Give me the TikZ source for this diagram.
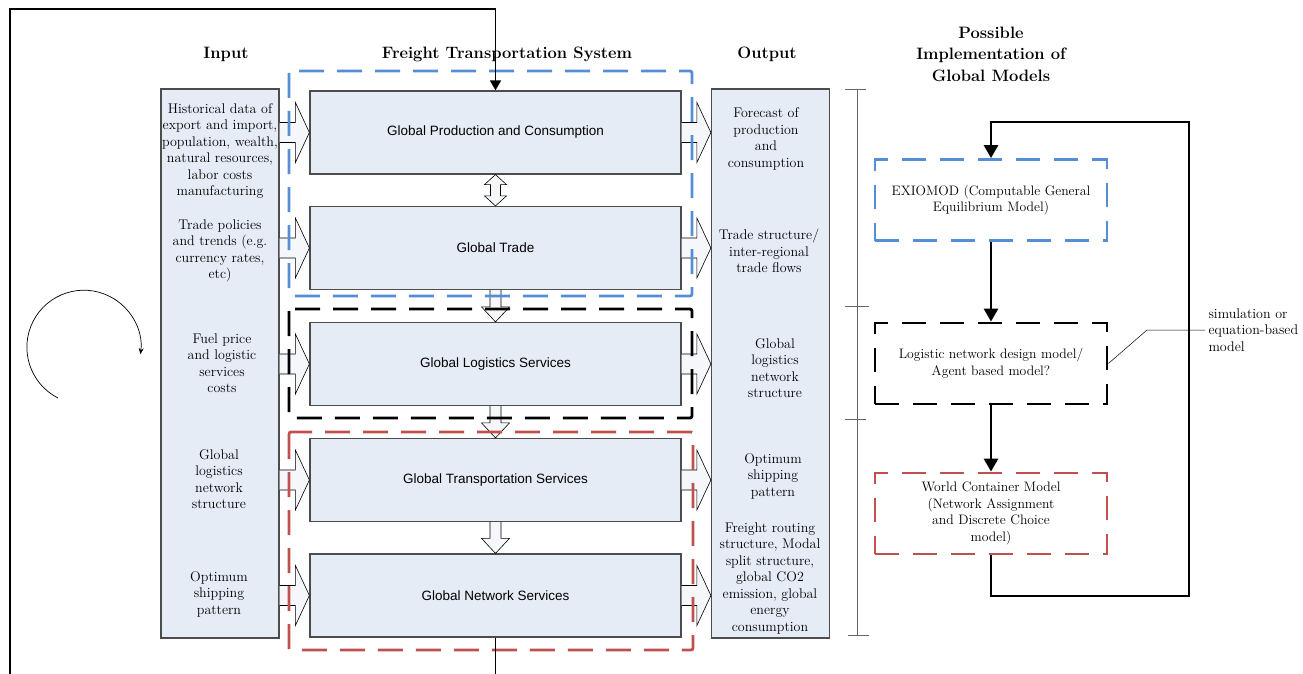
\documentclass[tikz,border=0pt]{standalone}
\usepackage{fontspec}
\newfontfamily\arialfont{Liberation Sans}
\usepackage{tikz}
\usetikzlibrary{arrows.meta,calc}

\definecolor{boxfill}{RGB}{230,236,246}
\definecolor{dashblue}{RGB}{85,142,213}
\definecolor{dashred}{RGB}{192,80,77}

\newcommand{\fatright}[2]{%
  \draw[fatarr] ($(#1)+(0,-10)$) -- ($(#2)+(-14,-10)$) -- ($(#2)+(-14,-30)$) -- (#2)
    -- ($(#2)+(-14,30)$) -- ($(#2)+(-14,10)$) -- ($(#1)+(0,10)$);}
\newcommand{\fatdown}[2]{%
  \draw[fatarr] ($(#1)+(-5.5,0)$) -- ($(#2)+(-5.5,-15)$) -- ($(#2)+(-14,-15)$) -- (#2)
    -- ($(#2)+(14,-15)$) -- ($(#2)+(5.5,-15)$) -- ($(#1)+(5.5,0)$);}

\begin{document}
\begin{tikzpicture}[x=1pt,y=-1pt,
  sysbox/.style={draw=black!70,fill=boxfill,line width=1.2pt,minimum width=371pt,minimum height=83pt,font=\arialfont\fontsize{13.5}{16}\selectfont},
  colbox/.style={draw=black!70,fill=boxfill,line width=1.2pt,minimum width=118pt,minimum height=549pt},
  coltext/.style={align=center,font=\fontsize{14}{16.5}\selectfont,inner sep=0pt},
  colhead/.style={align=center,font=\bfseries\fontsize{16.5}{21.5}\selectfont},
  grpbox/.style={line width=2.8pt,dash pattern=on 25pt off 13pt,rounded corners=2pt},
  modelbox/.style={line width=2.8pt,dash pattern=on 24pt off 14pt,minimum width=232pt,minimum height=81pt,align=center,font=\fontsize{13.7}{16.5}\selectfont},
  fatarr/.style={draw=black,line width=0.6pt,fill=boxfill!40},
  fbline/.style={line width=2.8pt,-{Triangle[length=13pt,width=14pt]}},
  ]
\useasboundingbox (0,0) rectangle (1303,674);

\node[colhead] (hin) at (226,54) {Input};
\node[colhead] (hsys) at (507,54) {Freight Transportation System};
\node[colhead] (hout) at (767,54) {Output};
\node[colhead] (hmod) at (991,54) {Possible\\Implementation of\\Global Models};

\node[colbox] (inp) at (220,363.5) {};
\node[colbox] (outp) at (770.5,363.5) {};
\node[sysbox] (gpc) at (495.5,132.5) {Global Production and Consumption};
\node[sysbox] (gt) at (495.5,248) {Global Trade};
\node[sysbox] (gls) at (495.5,364) {Global Logistics Services};
\node[sysbox] (gts) at (495.5,480) {Global Transportation Services};
\node[sysbox] (gns) at (495.5,595.5) {Global Network Services};

\node[coltext] (in1) at (220,151) {Historical data of\\export and import,\\population, wealth,\\natural resources,\\labor costs\\manufacturing};
\node[coltext] (in2) at (220,251) {Trade policies\\and trends (e.g.\\currency rates,\\etc)};
\node[coltext] (in3) at (222,363) {Fuel price\\and logistic\\services\\costs};
\node[coltext] (in4) at (219,479) {Global\\logistics\\network\\structure};
\node[coltext] (in5) at (219,594) {Optimum\\shipping\\pattern};

\node[coltext] (out1) at (766,139) {Forecast of\\production\\and\\consumption};
\node[coltext] (out2) at (769,251) {Trade structure/\\inter-regional\\trade flows};
\node[coltext] (out3) at (775,368) {Global\\logistics\\network\\structure};
\node[coltext] (out4) at (773,476) {Optimum\\shipping\\pattern};
\node[coltext] (out5) at (770,578) {Freight routing\\structure, Modal\\split structure,\\global CO2\\emission, global\\energy\\consumption};

\foreach \b in {gpc,gt,gls,gts,gns}{
  \coordinate (s) at (inp.east |- \b.west);
  \fatright{s}{\b.west}
  \coordinate (t) at (outp.west |- \b.east);
  \fatright{\b.east}{t}
}
\draw[fatarr] (gpc.south) -- ++(11,10) -- ++(-6,0) -- ($(gt.north)+(5,-10)$) -- ++(6,0) -- (gt.north)
  -- ++(-11,-10) -- ++(6,0) -- ($(gpc.south)+(-5,10)$) -- ++(-6,0) -- cycle;
\fatdown{gt.south}{gls.north}
\fatdown{gls.south}{gts.north}
\fatdown{gts.south}{gns.north}

\draw[grpbox,draw=dashblue] (289,71) rectangle (692,296);
\draw[grpbox,draw=black] (289,309) rectangle (692,418);
\draw[grpbox,draw=dashred] (289,432) rectangle (693,650);

\coordinate (fbbot) at (495.5,674);
\coordinate (fbleft) at (10,674);
\coordinate (fbtop) at (10,9);
\draw[line width=1.5pt] (gns.south) -- (fbbot);
\draw[line width=1.5pt,-{Triangle[length=10pt,width=11pt]}] (fbleft) -- (fbtop) -| (gpc.north);

\draw[line width=0.7pt,-{Stealth[length=6pt,width=5pt]}] (58,398) arc[start angle=243, end angle=-7, radius=57pt];

\draw[black!60,line width=0.8pt] (857,89) -- (857,635);
\draw[black!60,line width=0.8pt] (845,89) -- (866,89);
\draw[black!60,line width=0.8pt] (845,306) -- (869,306);
\draw[black!60,line width=0.8pt] (845,419) -- (866,419);
\draw[black!60,line width=0.8pt] (848,635) -- (869,635);

\node[modelbox,draw=dashblue] (exio) at (991,200) {EXIOMOD (Computable General\\Equilibrium Model)};
\node[modelbox,draw=black] (lnd) at (991,363.5) {Logistic network design model/\\Agent based model?};
\node[modelbox,draw=dashred] (wcm) at (991,513.5) {World Container Model\\(Network Assignment\\and Discrete Choice\\model)};

\coordinate (loopbr) at (1189,596);
\coordinate (looptr) at (1189,122);
\draw[fbline] (exio.south) -- (lnd.north);
\draw[fbline] (lnd.south) -- (wcm.north);
\draw[fbline] (wcm.south) |- (loopbr) -- (looptr) -| (exio.north);

\node[anchor=west,align=left,font=\fontsize{14}{16.5}\selectfont] (sim) at (1205,330) {simulation or\\equation-based\\model};
\coordinate (simk) at (1147,330);
\draw[line width=0.5pt] (lnd.east) -- (simk) -- (sim.west);
\end{tikzpicture}
\end{document}
